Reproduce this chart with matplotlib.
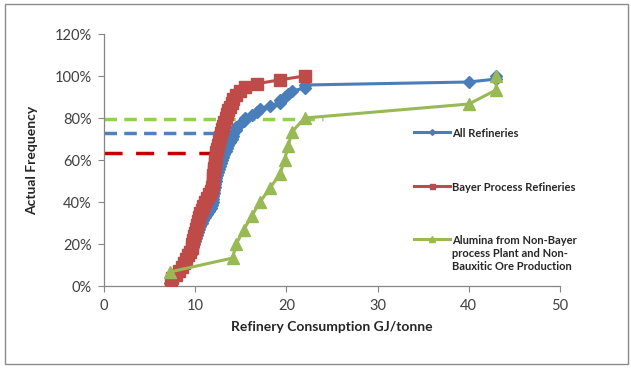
import numpy as np
import matplotlib
matplotlib.use("Agg")
import matplotlib.pyplot as plt
from matplotlib.patches import Rectangle

plt.rcParams["font.family"] = ["Lato", "DejaVu Sans"]

# refinery energy consumption (GJ/tonne)
bayer_gj = [7.3, 7.5, 7.9, 8.2, 8.5, 8.8, 9.0, 9.2, 9.4, 9.6,
            9.7, 9.8, 9.9, 10.0, 10.1, 10.2, 10.3, 10.4, 10.5, 10.7,
            10.9, 11.1, 11.3, 11.5, 11.7, 11.8, 11.9, 11.95, 12.0, 12.05,
            12.1, 12.15, 12.2, 12.25, 12.3, 12.4, 12.5, 12.6, 12.7, 12.8,
            12.9, 13.0, 13.2, 13.4, 13.5, 13.6, 13.8, 14.0, 14.2, 14.5,
            14.9, 15.5, 16.8, 19.3, 22.0]
non_bayer_gj = [7.2, 14.1, 14.5, 15.3, 16.2, 17.1, 18.2, 19.3, 19.8, 20.2,
                20.6, 22.0, 40.0, 43.0, 43.0]
all_gj = sorted(bayer_gj + non_bayer_gj)

# reference levels (fraction, x end)
ref_levels = [0.795, 0.73, 0.635]
ref_ends = [24.0, 14.2, 11.6]
ref_colors = ["#92D050", "#4F81BD", "#C00000"]
ref_dashes = [(3.6, 2.1), (3.6, 2.1), (5.2, 3.9)]

x_ticks = [0, 10, 20, 30, 40, 50]
y_ticks = [0, 0.2, 0.4, 0.6, 0.8, 1.0, 1.2]


def cum_freq(vals):
    vals = np.sort(vals)
    return vals, np.arange(1, len(vals) + 1) / len(vals)


fig = plt.figure(figsize=(6.31, 3.68), dpi=100)
ax = fig.add_axes([0.1648, 0.2228, 0.8875 - 0.1648, 0.9076 - 0.2228])

for lvl, xe, c, d in zip(ref_levels, ref_ends, ref_colors, ref_dashes):
    ax.plot([0, xe], [lvl, lvl], color=c, lw=2.5, dashes=d, solid_capstyle="butt",
            dash_capstyle="butt", zorder=2)

xa, ya = cum_freq(all_gj)
ax.plot(xa, ya, color="#4A7EBB", lw=2.2, marker="D", ms=6.5, label="All Refineries", zorder=3)
xb, yb = cum_freq(bayer_gj)
ax.plot(xb, yb, color="#BE4B48", lw=2.2, marker="s", ms=8, label="Bayer Process Refineries", zorder=4)
xn, yn = cum_freq(non_bayer_gj)
ax.plot(xn, yn, color="#98B954", lw=2.2, marker="^", ms=9,
        label="Alumina from Non-Bayer\nprocess Plant and Non-\nBauxitic Ore Production", zorder=5)

ax.set_xlim(0, 50)
ax.set_ylim(0, 1.2)
ax.set_xticks(x_ticks)
ax.set_yticks(y_ticks)
ax.set_yticklabels([f"{int(round(v * 100))}%" for v in y_ticks])
for s in ["top", "right"]:
    ax.spines[s].set_visible(False)
for s in ["left", "bottom"]:
    ax.spines[s].set_color("#868686")
    ax.spines[s].set_linewidth(0.9)
ax.tick_params(direction="out", length=4, color="#868686", labelsize=10.5,
               labelcolor="#404040", pad=5)
ax.set_xlabel("Refinery Consumption GJ/tonne", fontsize=10, fontweight="bold",
              color="#262626", labelpad=6)
ax.set_ylabel("Actual Frequency", fontsize=10, fontweight="bold", color="#262626", labelpad=12)

leg = ax.legend(loc="upper left", bbox_to_anchor=(0.67, 0.645), frameon=False, fontsize=8,
                handlelength=3.2, handletextpad=0.2, labelspacing=3.85, markerscale=0.45,
                borderaxespad=0)
for t in leg.get_texts():
    t.set_fontweight("bold")
    t.set_color("#262626")
# put the handle next to the first line of the wrapped label
for col in leg._legend_handle_box.get_children():
    for row in col.get_children():
        row.align = "top"

fig.patches.append(Rectangle((5 / 631, 4 / 368), 623 / 631, 360 / 368, transform=fig.transFigure,
                             fill=False, edgecolor="#8c8c8c", lw=1))

fig.savefig("out.png", dpi=100)
